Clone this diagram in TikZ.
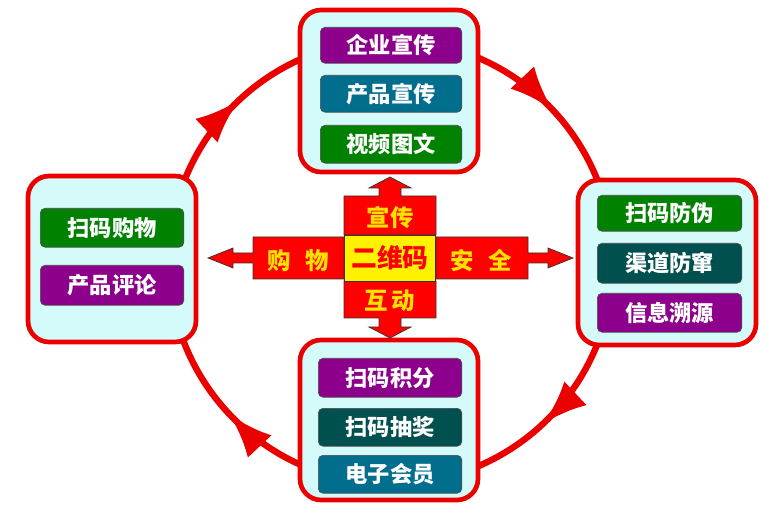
\documentclass[tikz,border=0pt]{standalone}
\usepackage{fontspec}
\newfontfamily\cjk{Noto Sans CJK SC}
\usetikzlibrary{arrows.meta,decorations.markings}
\definecolor{panelbg}{RGB}{212,250,250}
\definecolor{itpurple}{RGB}{140,0,140}
\definecolor{itteal}{RGB}{0,110,140}
\definecolor{itgreen}{RGB}{0,130,0}
\definecolor{itdark}{RGB}{0,80,80}
\definecolor{ringred}{RGB}{235,0,0}
\definecolor{gold}{RGB}{255,225,0}

\begin{document}
\begin{tikzpicture}[
  x=0.03cm, y=-0.03cm,
  panel/.style = {draw=ringred, line width=4pt, fill=panelbg, rounded corners=18pt},
  item/.style = {draw=black!70, line width=0.6pt, rounded corners=4pt, text=white,
    font=\cjk\bfseries\fontsize{19}{19}\selectfont, anchor=north west},
  arm/.style = {draw=black!80, line width=0.6pt, fill=red},
  armtext/.style = {text=gold, font=\cjk\bfseries\fontsize{20}{20}\selectfont}
  ]
  \useasboundingbox (0,0) rectangle (782,516);

  % ring with arrows
  \draw[ringred, line width=5.5pt,
    postaction={decorate}, decoration={markings,
      mark=at position 0.13 with {\arrow{Latex[length=38pt,width=28pt]}},
      mark=at position 0.38 with {\arrow{Latex[length=38pt,width=28pt]}},
      mark=at position 0.63 with {\arrow{Latex[length=38pt,width=28pt]}},
      mark=at position 0.88 with {\arrow{Latex[length=38pt,width=28pt]}}}]
    (391,262) circle [radius=222];

  % panels
  \draw[panel] (300,10) rectangle (478,172);
  \draw[panel] (28,176) rectangle (196,342);
  \draw[panel] (578,180) rectangle (756,345);
  \draw[panel] (300,340) rectangle (478,500);

  % top items
  \node[item, fill=itpurple, minimum width=142pt*0.85, minimum height=36pt*0.85] (qiye) at (320,27) {企业宣传};
  \node[item, fill=itteal, minimum width=142pt*0.85, minimum height=37pt*0.85] (chanpin) at (320,75) {产品宣传};
  \node[item, fill=itgreen, minimum width=142pt*0.85, minimum height=38pt*0.85] (shipin) at (320,125) {视频图文};

  % left items
  \node[item, fill=itgreen, minimum width=144pt*0.85, minimum height=39pt*0.85] (gouwu) at (40,208) {扫码购物};
  \node[item, fill=itpurple, minimum width=144pt*0.85, minimum height=40pt*0.85] (pinglun) at (40,265) {产品评论};

  % right items
  \node[item, fill=itgreen, minimum width=145pt*0.85, minimum height=36pt*0.85] (fangwei) at (597,195) {扫码防伪};
  \node[item, fill=itdark, minimum width=145pt*0.85, minimum height=40pt*0.85] (fangcuan) at (597,243) {渠道防窜};
  \node[item, fill=itpurple, minimum width=145pt*0.85, minimum height=39pt*0.85] (suyuan) at (597,293) {信息溯源};

  % bottom items
  \node[item, fill=itpurple, minimum width=144pt*0.85, minimum height=39pt*0.85] (jifen) at (318,358) {扫码积分};
  \node[item, fill=itdark, minimum width=144pt*0.85, minimum height=38pt*0.85] (choujiang) at (318,408) {扫码抽奖};
  \node[item, fill=itteal, minimum width=144pt*0.85, minimum height=38pt*0.85] (huiyuan) at (318,455) {电子会员};

  % centre cross
  \draw[arm] (344,235) -- (344,196) -- (379,196) -- (379,188) -- (369,188) -- (390,177)
    -- (411,188) -- (401,188) -- (401,196) -- (436,196) -- (436,235) -- cycle;
  \draw[arm] (344,281) -- (344,318) -- (379,318) -- (379,327) -- (369,327) -- (390,338)
    -- (411,327) -- (401,327) -- (401,318) -- (436,318) -- (436,281) -- cycle;
  \draw[arm] (436,237) -- (528,237) -- (528,253) -- (548,253) -- (548,248) -- (573,258)
    -- (548,268) -- (548,263) -- (528,263) -- (528,279) -- (436,279) -- cycle;
  \draw[arm] (344,237) -- (253,237) -- (253,253) -- (233,253) -- (233,248) -- (208,258)
    -- (233,268) -- (233,263) -- (253,263) -- (253,279) -- (344,279) -- cycle;
  \node[draw=black!80, line width=0.6pt, fill=yellow, minimum width=92pt*0.85, minimum height=46pt*0.85,
    text=red, font=\cjk\bfseries\fontsize{22}{22}\selectfont] (ewm) at (390,258) {二维码};

  \node[armtext] (xuanchuan) at (390,218) {宣传};
  \node[armtext] (hudong) at (390,301) {互\,动};
  \node[armtext] (gw) at (298,261) {购\hspace{12pt}物};
  \node[armtext] (anquan) at (481,261) {安\hspace{12pt}全};
\end{tikzpicture}
\end{document}
